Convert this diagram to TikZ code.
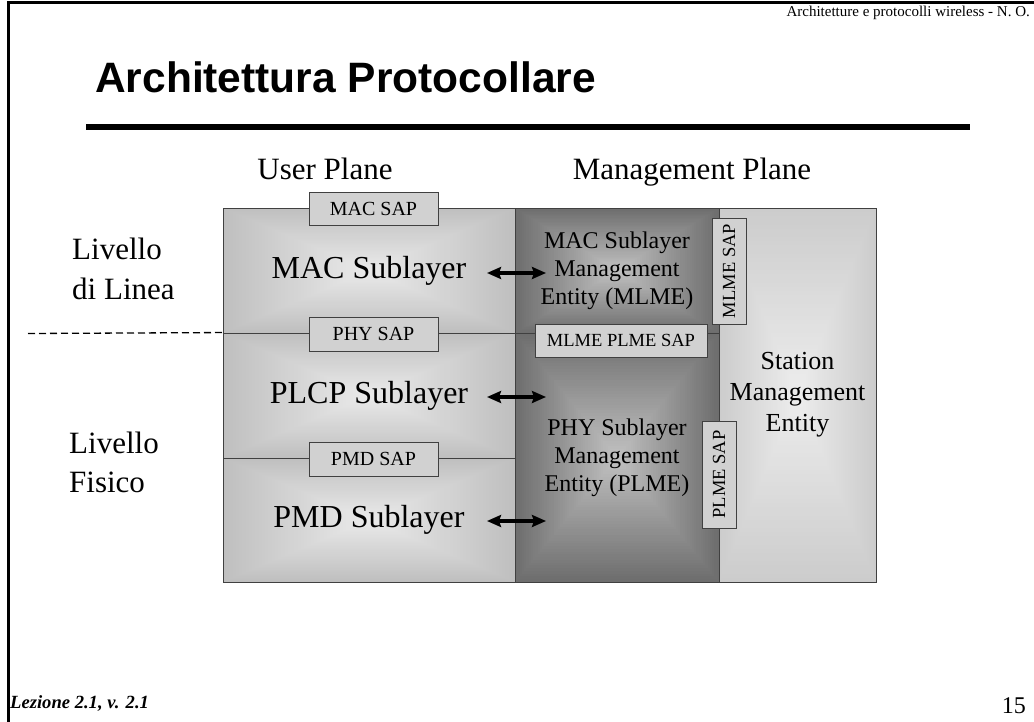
\documentclass[tikz,border=0pt]{standalone}
\usepackage{fontspec}
\setmainfont{Liberation Serif}
\newfontfamily\arialf{Liberation Sans}
\usetikzlibrary{arrows.meta}

% rectangular "from centre" gradient built from concentric rectangles
\newcommand\gradrect[6]{%
  \foreach \gi in {0,...,44}{%
    \pgfmathsetmacro\gfr{\gi/45}%
    \pgfmathsetmacro\gpc{100*\gfr}%
    \fill[#5!\gpc!#6] ({#1+\gfr*(#3-#1)/2},{#2+\gfr*(#4-#2)/2}) rectangle ({#3-\gfr*(#3-#1)/2},{#4-\gfr*(#4-#2)/2});
  }%
}

\colorlet{lightin}{black!8}
\colorlet{lightout}{black!25}
\colorlet{darkin}{black!24}
\colorlet{darkout}{black!57}
\colorlet{stin}{black!7}
\colorlet{stout}{black!20}
\colorlet{sapfill}{black!18}
\colorlet{edge}{black!75}

\tikzset{
  framestyle/.style={line width=3pt},
  layerbox/.style={draw=edge, line width=0.9pt, inner sep=0pt, font=\fontsize{32}{38}\selectfont},
  mgmtbox/.style={draw=edge, line width=0.9pt, inner sep=0pt, align=center, font=\fontsize{24}{28}\selectfont},
  stbox/.style={draw=edge, line width=0.9pt, inner sep=0pt, align=center, font=\fontsize{26}{31}\selectfont},
  sapbox/.style={draw=edge, line width=0.9pt, fill=sapfill, inner sep=0pt, font=\fontsize{20}{24}\selectfont},
  sapsmall/.style={sapbox, font=\fontsize{18.5}{22}\selectfont},
  biarrow/.style={line width=3.2pt, {Stealth[length=14pt,width=12pt,inset=2pt]}-{Stealth[length=14pt,width=12pt,inset=2pt]}},
  sidelabel/.style={anchor=base west, inner sep=0pt, font=\fontsize{31}{37}\selectfont},
  planelabel/.style={anchor=base, inner sep=0pt, font=\fontsize{31}{37}\selectfont},
  levelline/.style={line width=1.3pt, dash pattern=on 7pt off 4pt}
}

\begin{document}
\begin{tikzpicture}[x=1pt,y=-1pt]
\useasboundingbox[fill=white] (0,0) rectangle (1034,722);

% slide frame
\coordinate (fb) at (8,722);
\coordinate (fc) at (8,3);
\coordinate (fr) at (1034,3);
\draw[framestyle] (fb) -- (fc) -- (fr);

% header
\node[anchor=base east, inner sep=0pt, font=\fontsize{15}{18}\selectfont] (hdr) at (1030,17) {Architetture e protocolli wireless - N. O.};
\node[anchor=base west, inner sep=0pt, font=\arialf\bfseries\fontsize{42.5}{50}\selectfont] (title) at (95,93) {Architettura Protocollare};
\coordinate (rl) at (86,127);
\coordinate (rr) at (970,127);
\draw[line width=6pt] (rl) -- (rr);

% plane labels
\node[planelabel] (up) at (325,180) {User Plane};
\node[planelabel] (mp) at (692,180) {Management Plane};

% shaded backgrounds
\gradrect{223}{208}{515}{333}{lightin}{lightout}
\gradrect{223}{333}{515}{458}{lightin}{lightout}
\gradrect{223}{458}{515}{582}{lightin}{lightout}
\gradrect{515}{208}{719}{333}{darkin}{darkout}
\gradrect{515}{333}{719}{582}{darkin}{darkout}
\gradrect{719}{208}{876}{582}{stin}{stout}

% boxes
\node[layerbox, minimum width=292, minimum height=125] (mac) at (369,270.5) {MAC Sublayer};
\node[layerbox, minimum width=292, minimum height=125] (plcp) at (369,395.5) {PLCP Sublayer};
\node[layerbox, minimum width=292, minimum height=124] (pmd) at (369,520) {PMD Sublayer};
\node[mgmtbox, minimum width=204, minimum height=125] (mlme) at (617,270.5) {MAC Sublayer\\Management\\Entity (MLME)};
\node[mgmtbox, minimum width=204, minimum height=249] (plme) at (617,457.5) {PHY Sublayer\\Management\\Entity (PLME)};
\node[stbox, minimum width=157, minimum height=374] (sme) at (797.5,395) {Station\\Management\\Entity};

% SAPs
\node[sapbox, minimum width=129, minimum height=33] (macsap) at (373.5,208.5) {MAC SAP};
\node[sapbox, minimum width=129, minimum height=34] (physap) at (373.5,334) {PHY SAP};
\node[sapbox, minimum width=129, minimum height=34] (pmdsap) at (373.5,459) {PMD SAP};
\node[sapsmall, minimum width=172, minimum height=33] (mpsap) at (621,340.5) {MLME PLME SAP};
\node[sapsmall, rotate=90, minimum width=106, minimum height=34] (mlmesap) at (729,271) {MLME SAP};
\node[sapsmall, rotate=90, minimum width=107, minimum height=34] (plmesap) at (719,474.5) {PLME SAP};

% arrows
\coordinate (a1l) at (487,273); \coordinate (a1r) at (546,273);
\coordinate (a2l) at (487,397); \coordinate (a2r) at (546,397);
\coordinate (a3l) at (487,521); \coordinate (a3r) at (546,521);
\draw[biarrow] (a1l) -- (a1r);
\draw[biarrow] (a2l) -- (a2r);
\draw[biarrow] (a3l) -- (a3r);

% level labels
\node[sidelabel] (liv1) at (72,260) {Livello};
\node[sidelabel] (liv2) at (72,299) {di Linea};
\node[sidelabel] (fis1) at (69,453) {Livello};
\node[sidelabel] (fis2) at (69,492) {Fisico};
\coordinate (dl) at (28,333.5);
\draw[levelline] (dl) -- (plcp.north west);

% footer
\node[anchor=base west, inner sep=0pt, font=\bfseries\itshape\fontsize{18.6}{22}\selectfont] (foot) at (10,708) {Lezione 2.1, v. 2.1};
\node[anchor=base east, inner sep=0pt, font=\fontsize{24}{28}\selectfont] (pg) at (1026,713) {15};
\end{tikzpicture}
\end{document}
